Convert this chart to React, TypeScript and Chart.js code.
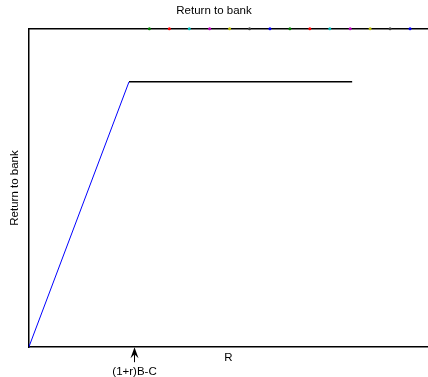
import React, { useEffect, useRef } from "react";
import { Chart, registerables } from "chart.js";

Chart.register(...registerables);

const rampX = [0, 25.1];
const rampY = [0, 1];
const flatX = [25.1, 81];
const flatY = [1, 1];
const dotX = [30.2, 35.2, 40.2, 45.3, 50.3, 55.3, 60.4, 65.4, 70.4, 75.4, 80.5, 85.5, 90.5, 95.5];
const dotY = [1.2, 1.2, 1.2, 1.2, 1.2, 1.2, 1.2, 1.2, 1.2, 1.2, 1.2, 1.2, 1.2, 1.2];
const dotColors = [
  "#008000", "#ff0000", "#00bfbf", "#bf00bf", "#bfbf00", "#404040", "#0000ff",
  "#008000", "#ff0000", "#00bfbf", "#bf00bf", "#bfbf00", "#404040", "#0000ff",
];
const markerX = 26.3;
const markerLabel = "(1+r)B-C";
const chartTitle = "Return to bank";
const xTitle = "R";
const yTitle = "Return to bank";

const FONT = "'Liberation Sans', Arial, Helvetica, sans-serif";

const arrowPlugin = {
  id: "arrowMarker",
  afterDraw(chart: any) {
    const { ctx, chartArea, scales } = chart;
    const px = Math.round(scales.x.getPixelForValue(markerX)) + 0.5;
    const b = chartArea.bottom;
    ctx.save();
    ctx.fillStyle = "#000";
    ctx.strokeStyle = "#000";
    ctx.beginPath();
    ctx.moveTo(px, b);
    ctx.lineTo(px - 4, b + 11);
    ctx.lineTo(px, b + 7);
    ctx.lineTo(px + 4, b + 11);
    ctx.closePath();
    ctx.fill();
    ctx.lineWidth = 1;
    ctx.beginPath();
    ctx.moveTo(px, b + 7);
    ctx.lineTo(px, b + 15);
    ctx.stroke();
    ctx.font = `11.5px ${FONT}`;
    ctx.textAlign = "center";
    ctx.textBaseline = "middle";
    ctx.fillText(markerLabel, px, b + 25);
    ctx.restore();
  },
};

const hiddenGrid = { display: false, drawTicks: false, tickLength: 0 };

export default function App() {
  const ref = useRef<HTMLCanvasElement>(null);
  useEffect(() => {
    Chart.defaults.font.family = FONT;
    const chart = new Chart(ref.current!, {
      type: "line",
      data: {
        datasets: [
          {
            data: rampX.map((x, i) => ({ x, y: rampY[i] })),
            borderColor: "#0000ff",
            borderWidth: 1,
            pointRadius: 0,
          },
          {
            data: flatX.map((x, i) => ({ x, y: flatY[i] })),
            borderColor: "#000000",
            borderWidth: 1.5,
            pointRadius: 0,
          },
          {
            data: dotX.map((x, i) => ({ x, y: dotY[i] })),
            showLine: false,
            pointRadius: 1.5,
            pointBorderWidth: 0,
            pointBackgroundColor: dotColors,
            clip: false as any,
          },
        ],
      },
      options: {
        animation: false,
        responsive: false,
        layout: { padding: { left: 0, right: 0, top: 0, bottom: 0 }, autoPadding: false },
        plugins: {
          legend: { display: false },
          tooltip: { enabled: false },
          title: {
            display: true,
            text: chartTitle,
            color: "#000",
            font: { size: 11.5, weight: "normal", family: FONT },
            padding: { top: 4, bottom: 11 },
          },
        },
        scales: {
          x: {
            type: "linear",
            min: 0,
            max: 100,
            ticks: { display: false },
            grid: hiddenGrid,
            border: { display: true, color: "#000", width: 1.5 },
            title: {
              display: true,
              text: xTitle,
              color: "#000",
              font: { size: 11.5, family: FONT },
              padding: { top: 4, bottom: 12 },
            },
          },
          x2: {
            type: "linear",
            position: "top",
            min: 0,
            max: 100,
            ticks: { display: false },
            grid: hiddenGrid,
            border: { display: true, color: "#000", width: 1.5 },
          },
          y: {
            type: "linear",
            min: 0,
            max: 1.2,
            ticks: { display: false },
            grid: hiddenGrid,
            border: { display: true, color: "#000", width: 1.5 },
            title: {
              display: true,
              text: yTitle,
              color: "#000",
              font: { size: 11.5, family: FONT },
              padding: { top: 8, bottom: 7 },
            },
          },
        },
      },
      plugins: [arrowPlugin],
    });
    return () => chart.destroy();
  }, []);
  return (
    <div style={{ position: "absolute", left: 0, top: 0, width: 428, height: 377, background: "#fff" }}>
      <canvas ref={ref} width={428} height={377} style={{ display: "block" }} />
    </div>
  );
}
